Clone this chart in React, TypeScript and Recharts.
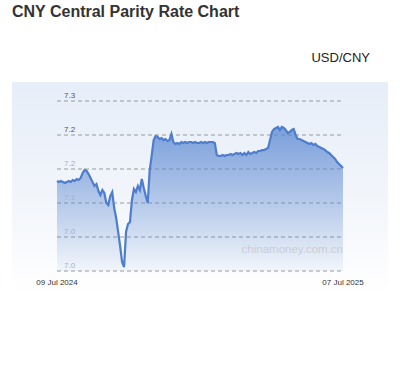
import React from "react";
import { AreaChart, Area, XAxis, YAxis, CartesianGrid } from "recharts";

// USD/CNY central parity, 09 Jul 2024 .. 07 Jul 2025
const rates = [
  7.1324, 7.1309, 7.1324, 7.1309, 7.1294, 7.1309, 7.1324, 7.1309, 7.1338, 7.1324,
  7.1353, 7.1338, 7.1368, 7.1441, 7.1485, 7.1471, 7.1426, 7.1368, 7.1309, 7.125,
  7.1279, 7.1176, 7.1118, 7.1191, 7.1147, 7.1, 7.0971, 7.1103, 7.1162, 7.0926,
  7.0779, 7.0574, 7.0368, 7.0132, 7.0059, 7.0574, 7.0691, 7.0721, 7.1044, 7.1206,
  7.1162, 7.125, 7.1191, 7.1353, 7.1221, 7.1103, 7.1, 7.1485, 7.1691, 7.1926,
  7.1985, 7.1971, 7.1941, 7.1956, 7.1926, 7.1941, 7.1912, 7.1926, 7.2015, 7.1897,
  7.1868, 7.1882, 7.1868, 7.1897, 7.1882, 7.1897, 7.1882, 7.1897, 7.1897, 7.1882,
  7.1897, 7.1882, 7.1882, 7.1897, 7.1882, 7.1897, 7.1882, 7.1897, 7.1897, 7.1897,
  7.1882, 7.1706, 7.1691, 7.1691, 7.1706, 7.1691, 7.1706, 7.1706, 7.1721, 7.1706,
  7.1721, 7.1735, 7.1721, 7.1735, 7.1706, 7.1735, 7.1706, 7.175, 7.1721, 7.1735,
  7.175, 7.1735, 7.1765, 7.1765, 7.1779, 7.1779, 7.1794, 7.1809, 7.1926, 7.2044,
  7.2088, 7.2103, 7.2118, 7.2074, 7.2118, 7.2103, 7.2074, 7.2029, 7.2044, 7.2074,
  7.2088, 7.2, 7.1941, 7.1941, 7.1926, 7.1912, 7.1897, 7.1882, 7.1868, 7.1882,
  7.1853, 7.1868, 7.1838, 7.1824, 7.1809, 7.1794, 7.1779, 7.175, 7.1735, 7.1706,
  7.1676, 7.1647, 7.1603, 7.1574, 7.1544, 7.1515,
];

const xTickLabels = ["09 Jul 2024", "07 Jul 2025"];
const yTicks = [7.0, 7.05, 7.1, 7.15, 7.2, 7.25];
const yTickLabels = ["7.0", "7.0", "7.1", "7.2", "7.2", "7.3"];

const data = rates.map((rate, i) => ({ i, rate }));
const lastIndex = rates.length - 1;

const FONT = "'Liberation Sans', Arial, sans-serif";
const PLOT_LEFT = 57;

const renderYTick = (props: any) => {
  const { y, index, payload } = props;
  // labels under the area look washed out in the original
  const fill = payload && payload.value >= 7.2 ? "#555" : "#a4b1c8";
  return (
    <text
      key={`yt-${index}`}
      x={PLOT_LEFT + 7}
      y={y - 3}
      fontSize={8}
      fill={fill}
      fontFamily={FONT}
      textAnchor="start"
    >
      {yTickLabels[index]}
    </text>
  );
};

export default function App() {
  return (
    <div
      style={{
        position: "fixed",
        left: 0,
        top: 0,
        width: 402,
        height: 372,
        background: "#fff",
        fontFamily: FONT,
        overflow: "hidden",
      }}
    >
      <div
        style={{
          position: "absolute",
          left: 12,
          top: 4,
          fontSize: 16,
          lineHeight: "16px",
          fontWeight: "bold",
          color: "#333",
        }}
      >
        CNY Central Parity Rate Chart
      </div>
      <div
        style={{
          position: "absolute",
          right: 32,
          top: 51,
          fontSize: 13,
          lineHeight: "13px",
          color: "#222",
        }}
      >
        USD/CNY
      </div>
      <div
        style={{
          position: "absolute",
          left: 12,
          top: 82,
          width: 376,
          height: 210,
          background: "linear-gradient(to bottom, #e6eef9 0%, #f3f6fb 60%, #ffffff 100%)",
        }}
      />
      <div style={{ position: "absolute", left: 0, top: 0 }}>
        <AreaChart
          width={402}
          height={372}
          data={data}
          margin={{ top: 101, right: 59, left: 57, bottom: 81 }}
        >
          <defs>
            <linearGradient id="cnyFill" x1="0" y1="0" x2="0" y2="1">
              <stop offset="0%" stopColor="#5584d0" stopOpacity={0.75} />
              <stop offset="100%" stopColor="#5584d0" stopOpacity={0.06} />
            </linearGradient>
          </defs>
          <CartesianGrid vertical={false} stroke="#9a9a9a" strokeDasharray="4 3" />
          <XAxis
            dataKey="i"
            type="number"
            domain={[0, lastIndex]}
            ticks={[0, lastIndex]}
            tickFormatter={(v: number) => (v === 0 ? xTickLabels[0] : xTickLabels[1])}
            height={20}
            axisLine={false}
            tickLine={false}
            tickSize={0}
            tickMargin={8}
            interval={0}
            tick={{ fontSize: 8, fill: "#333", fontFamily: FONT }}
          />
          <YAxis
            type="number"
            domain={[7.0, 7.25]}
            ticks={yTicks}
            allowDataOverflow
            mirror
            width={40}
            axisLine={false}
            tickLine={false}
            tickSize={0}
            interval={0}
            tick={renderYTick}
          />
          <Area
            type="linear"
            dataKey="rate"
            stroke="#4d7dcc"
            strokeWidth={2.2}
            fill="url(#cnyFill)"
            fillOpacity={1}
            dot={false}
            activeDot={false}
            isAnimationActive={false}
          />
        </AreaChart>
      </div>
      <div
        style={{
          position: "absolute",
          right: 402 - 343,
          top: 243,
          fontSize: 11.5,
          lineHeight: "13px",
          color: "#c9cdd5",
        }}
      >
        chinamoney.com.cn
      </div>
    </div>
  );
}
